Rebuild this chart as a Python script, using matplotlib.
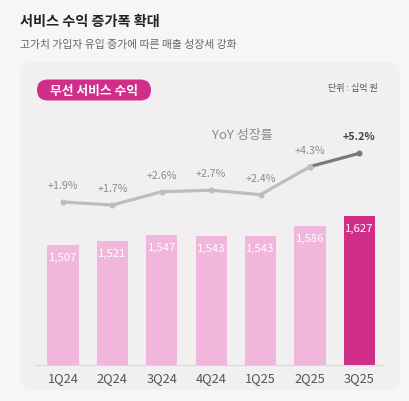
import matplotlib.pyplot as plt
from matplotlib.patches import FancyBboxPatch

plt.rcParams['font.family'] = ['Noto Sans CJK KR', 'DejaVu Sans']

# 데이터
quarters = ["1Q24", "2Q24", "3Q24", "4Q24", "1Q25", "2Q25", "3Q25"]
revenue = [1507, 1521, 1547, 1543, 1543, 1586, 1627]
yoy = [1.9, 1.7, 2.6, 2.7, 2.4, 4.3, 5.2]

W, H = 409, 402
fig = plt.figure(figsize=(W / 100, H / 100), dpi=100)
fig.patch.set_facecolor('#f7f6f7')


def fx(px):
    return px / W


def fy(py):
    return 1 - py / H


# 패널 배경
panel = FancyBboxPatch((fx(20), fy(391)), fx(400) - fx(20), fy(63) - fy(391),
                       boxstyle="round,pad=0,rounding_size=0.03",
                       transform=fig.transFigure, facecolor='#f1eff0',
                       edgecolor='none', zorder=-2)
fig.patches.append(panel)

# 제목
fig.text(fx(20), fy(22), "서비스 수익 증가폭 확대", fontsize=10.2, fontweight='bold',
         color='#222222', va='center', ha='left')
fig.text(fx(20), fy(45), "고가치 가입자 유입 증가에 따른 매출 성장세 강화", fontsize=7.8,
         color='#666666', va='center', ha='left')

# 라벨 알약
pill = FancyBboxPatch((fx(37), fy(101.5)), fx(151) - fx(37), fy(80.5) - fy(101.5),
                      boxstyle="round,pad=0,rounding_size=0.026",
                      transform=fig.transFigure, facecolor='#d12e8a',
                      edgecolor='none', zorder=-1)
fig.patches.append(pill)
fig.text(fx(94.5), fy(91), "무선 서비스 수익", fontsize=9.2, fontweight='bold',
         color='white', va='center', ha='center')
fig.text(fx(378), fy(88.5), "단위 : 십억 원", fontsize=6.5, color='#555555',
         va='center', ha='right')

# 메인 축 (막대)
ax_top, ax_bot = 140, 366
ax = fig.add_axes([fx(35), fy(ax_bot), fx(383) - fx(35), fy(ax_top) - fy(ax_bot)])
ax.set_facecolor('none')
x = list(range(len(quarters)))
colors = ['#f0b6dc'] * (len(quarters) - 1) + ['#d12e8a']
ax.bar(x, revenue, width=0.63, color=colors, zorder=2)
ax.set_xlim(-0.567, 6.478)
ax.set_ylim(1000, 1000 + (ax_bot - ax_top) / 0.2375)

for i, v in enumerate(revenue):
    ax.annotate(f"{v:,}", (i, v), xytext=(0, -12), textcoords='offset pixels',
                ha='center', va='center', fontsize=8.2, color='white',
                fontweight='medium' if i == len(revenue) - 1 else 'normal', zorder=3)

ax.set_xticks(x)
ax.set_xticklabels(quarters, fontsize=9.2, color='#555555')
ax.tick_params(axis='x', length=0, pad=4)
ax.set_yticks([])
for s in ['top', 'right', 'left']:
    ax.spines[s].set_visible(False)
ax.spines['bottom'].set_color('#d9d6d8')
ax.spines['bottom'].set_linewidth(0.8)

# 보조 축 (YoY 성장률)
ax2 = ax.twinx()
scale = 14.77
ax2.set_ylim(1.7 - (ax_bot - 206) / scale, 1.7 + (206 - ax_top) / scale)
ax2.axis('off')
ax2.plot(x[:6], yoy[:6], color='#bdbdbd', linewidth=2.3, marker='o',
         markersize=4.3, markerfacecolor='#bdbdbd', markeredgecolor='none', zorder=3)
ax2.plot(x[5:], yoy[5:], color='#7a7a7a', linewidth=2.3, zorder=3)
ax2.plot(x[5], yoy[5], 'o', color='#bdbdbd', markersize=4.3, markeredgecolor='none', zorder=4)
ax2.plot(x[6], yoy[6], 'o', color='#7a7a7a', markersize=4.3, markeredgecolor='none', zorder=4)

for i, v in enumerate(yoy):
    last = i == len(yoy) - 1
    ax2.annotate(f"+{v}%", (i, v), xytext=(0, 17), textcoords='offset pixels',
                 ha='center', va='center', fontsize=7.7,
                 color='#444444' if last else '#8c8c8c',
                 fontweight='bold' if last else 'normal')

fig.text(fx(242.6), fy(135.7), "YoY 성장률", fontsize=9.4, color='#8a8a8a',
         va='center', ha='center')

fig.savefig("out.png", dpi=100, facecolor=fig.get_facecolor())
